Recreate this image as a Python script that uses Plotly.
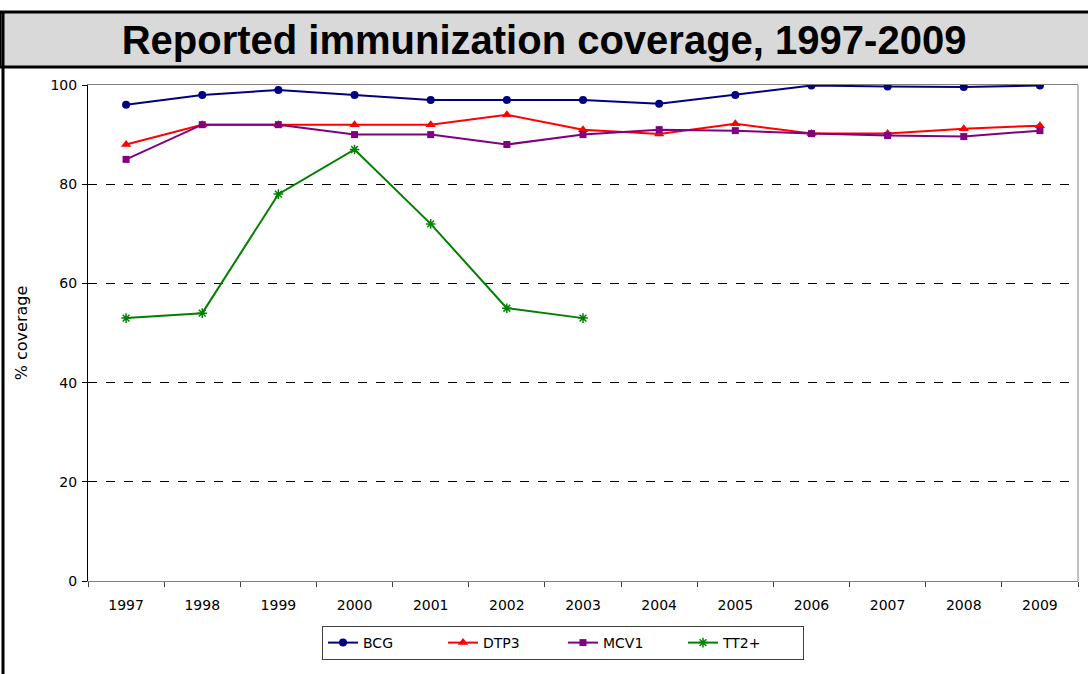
import plotly.graph_objects as go

years = ["1997", "1998", "1999", "2000", "2001", "2002", "2003",
         "2004", "2005", "2006", "2007", "2008", "2009"]
bcg = [96, 98, 99, 98, 97, 97, 97, 96.2, 98, 99.9, 99.7, 99.6, 99.9]
dtp3 = [88, 92, 92, 92, 92, 94, 91, 90.1, 92.2, 90.2, 90.2, 91.2, 91.8]
mcv1 = [85, 92, 92, 90, 90, 88, 90, 91, 90.8, 90.2, 89.8, 89.6, 90.8]
tt2_years = ["1997", "1998", "1999", "2000", "2001", "2002", "2003"]
tt2 = [53, 54, 78, 87, 72, 55, 53]

W, H = 1088, 674
L, R, T, B = 88, 10, 85, 93
PW, PH = W - L - R, H - T - B

fig = go.Figure()
fig.add_trace(go.Scatter(x=years, y=bcg, name="BCG", mode="lines+markers",
                         line=dict(color="#000080", width=2),
                         marker=dict(symbol="circle", size=8, color="#000080")))
fig.add_trace(go.Scatter(x=years, y=dtp3, name="DTP3", mode="lines+markers",
                         line=dict(color="#FF0000", width=2),
                         marker=dict(symbol="triangle-up", size=9, color="#FF0000")))
fig.add_trace(go.Scatter(x=years, y=mcv1, name="MCV1", mode="lines+markers",
                         line=dict(color="#800080", width=2),
                         marker=dict(symbol="square", size=7, color="#800080")))
fig.add_trace(go.Scatter(x=tt2_years, y=tt2, name="TT2+", mode="lines+markers",
                         line=dict(color="#008000", width=2),
                         marker=dict(symbol="asterisk-open", size=8,
                                     line=dict(color="#008000", width=1.5))))

tickfont = dict(family="DejaVu Sans", size=14, color="black")

fig.update_layout(
    width=W, height=H,
    margin=dict(l=L, r=R, t=T, b=B),
    paper_bgcolor="white", plot_bgcolor="white",
    showlegend=True,
    title=dict(text="<b>Reported immunization coverage, 1997-2009</b>",
               x=0.5, xanchor="center", y=1 - 40 / H, yanchor="middle",
               font=dict(family="Liberation Sans", size=40, color="black")),
    xaxis=dict(type="category", categoryorder="array", categoryarray=years,
               range=[-0.5, 12.5], showgrid=False, showline=True,
               linecolor="#808080", linewidth=1, mirror=True,
               ticks="outside", tickson="boundaries", ticklen=5,
               tickcolor="#404040", tickfont=tickfont, ticklabelstandoff=11),
    yaxis=dict(range=[0, 100], tickvals=[0, 20, 40, 60, 80, 100],
               showgrid=False, zeroline=False, showline=True,
               linecolor="black", linewidth=1, ticks="outside", ticklen=5,
               tickcolor="black", tickfont=tickfont, ticklabelstandoff=2,
               title=dict(text="% coverage", standoff=18,
                          font=dict(family="DejaVu Sans", size=16, color="black"))),
    yaxis2=dict(range=[0, 100], tickvals=[20, 40, 60, 80], overlaying="y",
                showticklabels=False, showgrid=True, gridcolor="black",
                griddash="dash", gridwidth=1, zeroline=False, showline=False,
                ticks=""),
    legend=dict(orientation="h", x=(322 - L) / PW, xanchor="left",
                y=(H - B - 626) / PH, yanchor="top",
                bordercolor="#404040", borderwidth=1, bgcolor="white",
                font=dict(family="DejaVu Sans", size=14, color="black"),
                entrywidth=75, entrywidthmode="pixels",
                itemwidth=30, tracegroupgap=0),
)
# dummy trace to activate yaxis2 gridlines
fig.add_trace(go.Scatter(x=[years[0]], y=[None], yaxis="y2", showlegend=False,
                         hoverinfo="skip"))

# title band and outer frame
fig.add_shape(type="rect", xref="paper", yref="paper",
              x0=-L / PW, x1=(W - L + 20) / PW,
              y0=(H - B - 67) / PH, y1=(H - B - 12) / PH,
              fillcolor="#D9D9D9", line=dict(color="black", width=3), layer="below")
fig.add_shape(type="line", xref="paper", yref="paper",
              x0=(3 - L) / PW, x1=(3 - L) / PW,
              y0=(H - B - 12) / PH, y1=(H - B - H - 5) / PH,
              line=dict(color="black", width=3))
# right plot border
fig.add_shape(type="line", xref="paper", yref="paper", x0=1, x1=1, y0=0, y1=1,
              line=dict(color="#808080", width=1))

fig.write_html("out.html", config={"displayModeBar": False},
               post_script="document.body.style.margin='0px';")
